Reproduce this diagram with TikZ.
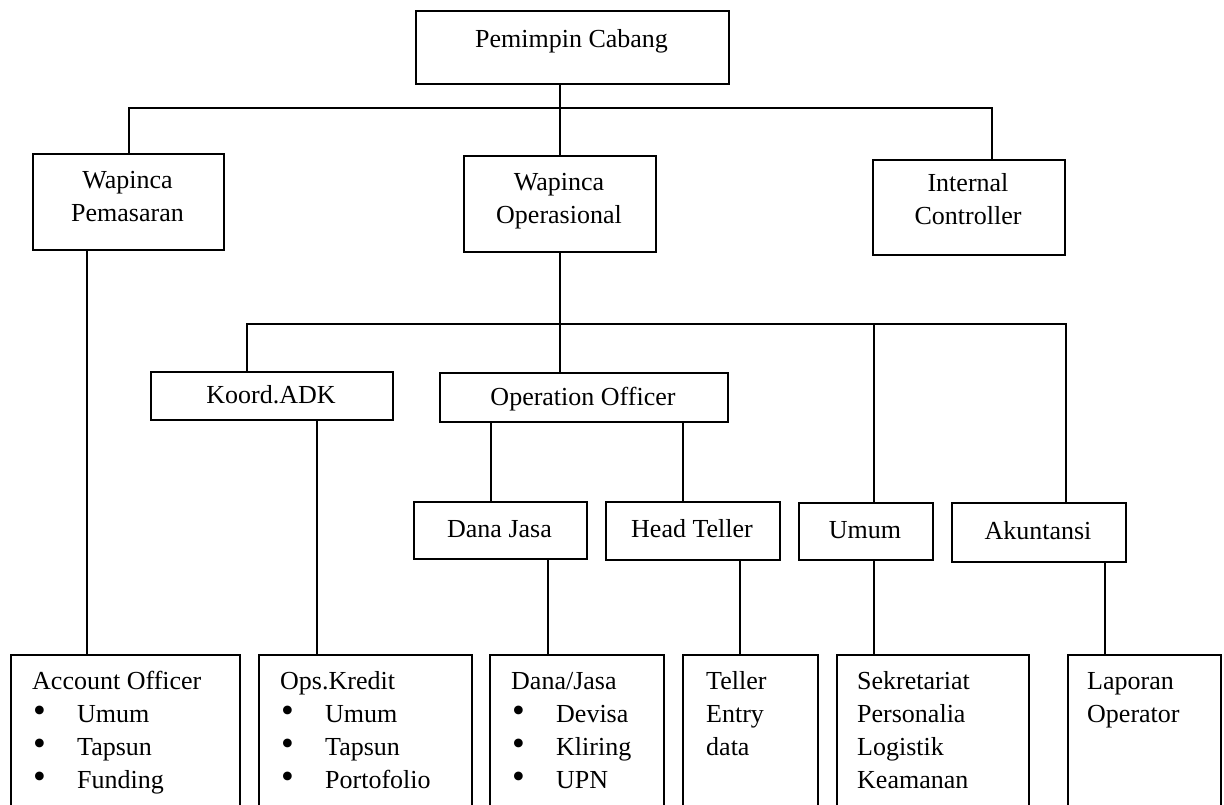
\documentclass[tikz,border=0pt]{standalone}
\usepackage{fontspec}
\setmainfont{Liberation Serif}
\newcommand\bitem[1]{\makebox[45pt][l]{\hspace{1pt}\raisebox{-0.5pt}{\scalebox{1.4}{•}}}#1}
\begin{document}
\begin{tikzpicture}[x=1pt,y=-1pt,
  box/.style={draw,line width=2.2pt,rectangle,inner sep=0pt,anchor=north west},
  txt/.style={inner sep=0pt,font=\fontsize{26}{33}\selectfont},
  ctxt/.style={txt,anchor=base,align=center},
  ltxt/.style={txt,anchor=base west},
  conn/.style={line width=1.8pt}]
\useasboundingbox (0,0) rectangle (1224,805);
% level 0
\node[box,minimum width=313pt,minimum height=73pt] (pc) at (415,10) {};
\node[ctxt] (pct) at (571.5,48) {Pemimpin Cabang};
% level 1
\node[box,minimum width=191pt,minimum height=96pt] (wp) at (32,153) {};
\node[ctxt] (wpt) at (127.5,189) {\begin{tabular}[t]{@{}c@{}}Wapinca\\Pemasaran\end{tabular}};
\node[box,minimum width=192pt,minimum height=96pt] (wo) at (463,155) {};
\node[ctxt] (wot) at (559,191) {\begin{tabular}[t]{@{}c@{}}Wapinca\\Operasional\end{tabular}};
\node[box,minimum width=192pt,minimum height=95pt] (ic) at (872,159) {};
\node[ctxt] (ict) at (968,192) {\begin{tabular}[t]{@{}c@{}}Internal\\Controller\end{tabular}};
% level 2
\node[box,minimum width=242pt,minimum height=48pt] (ka) at (150,371) {};
\node[ctxt] (kat) at (271,403) {Koord.ADK};
\node[box,minimum width=288pt,minimum height=49pt] (oo) at (439,372) {};
\node[ctxt] (oot) at (583,405) {Operation Officer};
% level 3
\node[box,minimum width=173pt,minimum height=57pt] (dj) at (413,501) {};
\node[ctxt] (djt) at (499.5,537) {Dana Jasa};
\node[box,minimum width=174pt,minimum height=58pt] (ht) at (605,501) {};
\node[ctxt] (htt) at (692,537) {Head Teller};
\node[box,minimum width=134pt,minimum height=57pt] (um) at (798,502) {};
\node[ctxt] (umt) at (865,538) {Umum};
\node[box,minimum width=174pt,minimum height=59pt] (ak) at (951,502) {};
\node[ctxt] (akt) at (1038,539) {Akuntansi};
% bottom level
\node[box,minimum width=229pt,minimum height=161pt] (ao) at (10,654) {};
\node[ltxt] (aot) at (32,689) {\begin{tabular}[t]{@{}l@{}}Account Officer\\\bitem{Umum}\\\bitem{Tapsun}\\\bitem{Funding}\end{tabular}};
\node[box,minimum width=213pt,minimum height=161pt] (ok) at (258,654) {};
\node[ltxt] (okt) at (280,689) {\begin{tabular}[t]{@{}l@{}}Ops.Kredit\\\bitem{Umum}\\\bitem{Tapsun}\\\bitem{Portofolio}\end{tabular}};
\node[box,minimum width=174pt,minimum height=161pt] (dd) at (489,654) {};
\node[ltxt] (ddt) at (511,689) {\begin{tabular}[t]{@{}l@{}}Dana/Jasa\\\bitem{Devisa}\\\bitem{Kliring}\\\bitem{UPN}\end{tabular}};
\node[box,minimum width=135pt,minimum height=161pt] (te) at (682,654) {};
\node[ltxt] (tet) at (706,689) {\begin{tabular}[t]{@{}l@{}}Teller\\Entry\\data\end{tabular}};
\node[box,minimum width=192pt,minimum height=161pt] (se) at (836,654) {};
\node[ltxt] (set) at (857,689) {\begin{tabular}[t]{@{}l@{}}Sekretariat\\Personalia\\Logistik\\Keamanan\end{tabular}};
\node[box,minimum width=153pt,minimum height=161pt] (la) at (1067,654) {};
\node[ltxt] (lat) at (1087,689) {\begin{tabular}[t]{@{}l@{}}Laporan\\Operator\end{tabular}};
% helper coordinates
\coordinate (b1) at (0,108);
\coordinate (b2) at (0,324);
\coordinate (x87) at (87,0);
\coordinate (x247) at (247,0);
\coordinate (x317) at (317,0);
\coordinate (x491) at (491,0);
\coordinate (x548) at (548,0);
\coordinate (x683) at (683,0);
\coordinate (x740) at (740,0);
\coordinate (x874) at (874,0);
\coordinate (x992) at (992,0);
\coordinate (x1066) at (1066,0);
\coordinate (x1105) at (1105,0);
% connectors level 0-1
\draw[conn] (wo.north) -- (wo.north |- pc.south);
\draw[conn] (wp.north) -- (wp.north |- b1) -- (x992 |- b1) -- (x992 |- ic.north);
% connectors level 1-2
\draw[conn] (x87 |- wp.south) -- (x87 |- ao.north);
\draw[conn] (wo.south) -- (wo.south |- oo.north);
\draw[conn] (x247 |- ka.north) -- (x247 |- b2) -- (x1066 |- b2) -- (x1066 |- ak.north);
\draw[conn] (x874 |- b2) -- (x874 |- um.north);
% connectors level 2-3
\draw[conn] (x317 |- ka.south) -- (x317 |- ok.north);
\draw[conn] (x491 |- oo.south) -- (x491 |- dj.north);
\draw[conn] (x683 |- oo.south) -- (x683 |- ht.north);
% connectors level 3-4
\draw[conn] (x548 |- dj.south) -- (x548 |- dd.north);
\draw[conn] (x740 |- ht.south) -- (x740 |- te.north);
\draw[conn] (x874 |- um.south) -- (x874 |- se.north);
\draw[conn] (x1105 |- ak.south) -- (x1105 |- la.north);
\end{tikzpicture}
\end{document}
